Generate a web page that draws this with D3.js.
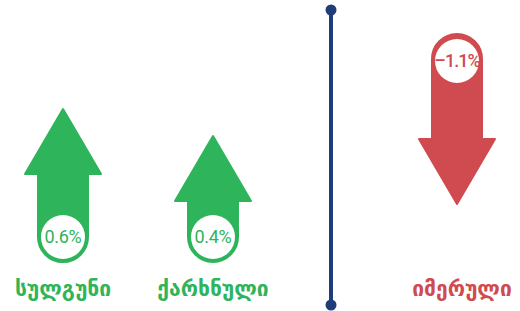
<!DOCTYPE html>
<html><head><meta charset="utf-8">
<script src="https://cdn.jsdelivr.net/npm/d3@7"></script>
<style>body{margin:0;background:#fff}svg{display:block}</style>
</head><body>
<script>
const categories = ["სულგუნი", "ქარხნული", "იმერული"];
const values = [0.6, 0.4, -1.1];
const valueLabels = ["0.6%", "0.4%", "–1.1%"];

const W = 520, H = 311;
const green = "#2eb45b", red = "#cf4b50", navy = "#1f3d78";
const svg = d3.select("body").append("svg").attr("width", W).attr("height", H);

const data = categories.map((c, i) => ({c, v: values[i], label: valueLabels[i]}));
const pos = data.filter(d => d.v >= 0), neg = data.filter(d => d.v < 0);

const xPos = d3.scalePoint().domain(pos.map(d => d.c)).range([63, 213]);
const xNeg = d3.scalePoint().domain(neg.map(d => d.c)).range([457, 457]);
const lenUp = d3.scaleLinear().domain([0, 0.6]).range([74, 155]);
const lenDown = d3.scaleLinear().domain([0, 1.1]).range([74, 172]);

const baseUp = 263, topDown = 33;
const headHW = 38, headH = 65, shaftHW = 25;

function upPath(cx, tip, bot) {
  const hb = tip + headH;
  return `M${cx},${tip} L${cx + headHW},${hb} L${cx + shaftHW},${hb} L${cx + shaftHW},${bot - shaftHW}
    A${shaftHW},${shaftHW} 0 0 1 ${cx - shaftHW},${bot - shaftHW} L${cx - shaftHW},${hb} L${cx - headHW},${hb} Z`;
}
function downPath(cx, top, tip) {
  const hb = tip - headH;
  return `M${cx},${tip} L${cx + headHW},${hb} L${cx + shaftHW},${hb} L${cx + shaftHW},${top + shaftHW}
    A${shaftHW},${shaftHW} 0 0 0 ${cx - shaftHW},${top + shaftHW} L${cx - shaftHW},${hb} L${cx - headHW},${hb} Z`;
}

// divider
svg.append("line").attr("x1", 331).attr("x2", 331).attr("y1", 10).attr("y2", 305)
  .attr("stroke", navy).attr("stroke-width", 4);
svg.append("circle").attr("cx", 331).attr("cy", 10).attr("r", 5.5).attr("fill", navy);
svg.append("circle").attr("cx", 331).attr("cy", 305).attr("r", 5.5).attr("fill", navy);

const labelFont = "'DejaVu Sans', sans-serif";

function label(cx, txt, color) {
  svg.append("text").attr("x", cx).attr("y", 296).attr("text-anchor", "middle")
    .attr("font-family", labelFont).attr("font-weight", "bold").attr("font-size", 21)
    .attr("fill", color).text(txt);
}

pos.forEach(d => {
  const cx = xPos(d.c);
  const tip = baseUp - lenUp(d.v);
  svg.append("path").attr("d", upPath(cx, tip + 1, baseUp - 1)).attr("fill", green)
    .attr("stroke", green).attr("stroke-width", 2).attr("stroke-linejoin", "round");
  svg.append("circle").attr("cx", cx).attr("cy", baseUp - 26).attr("r", 22).attr("fill", "#fff");
  svg.append("text").attr("x", cx).attr("y", baseUp - 26).attr("dy", "0.36em")
    .attr("text-anchor", "middle").attr("font-family", "Roboto, sans-serif").attr("font-size", 18)
    .attr("letter-spacing", "-0.3").attr("fill", green).text(d.label);
  label(cx, d.c, green);
});

neg.forEach(d => {
  const cx = xNeg(d.c);
  const tip = topDown + lenDown(-d.v);
  svg.append("path").attr("d", downPath(cx, topDown + 1, tip - 1)).attr("fill", red)
    .attr("stroke", red).attr("stroke-width", 2).attr("stroke-linejoin", "round");
  svg.append("circle").attr("cx", cx).attr("cy", topDown + 28).attr("r", 22).attr("fill", "#fff");
  svg.append("text").attr("x", cx).attr("y", topDown + 28).attr("dy", "0.36em")
    .attr("text-anchor", "middle").attr("font-family", "Roboto, sans-serif").attr("font-size", 18)
    .attr("font-weight", 500).attr("letter-spacing", "-1").attr("fill", red).text(d.label);
  label(cx + 5, d.c, red);
});
</script>
</body></html>
